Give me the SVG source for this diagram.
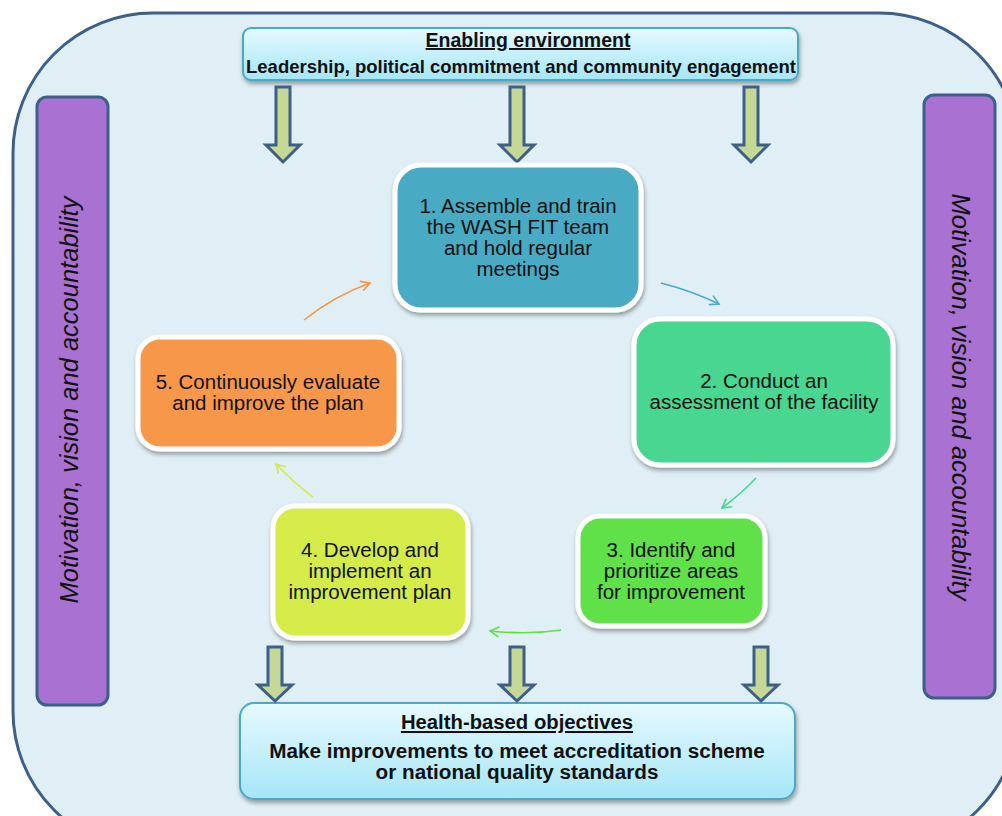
<svg xmlns="http://www.w3.org/2000/svg" width="1002" height="816" viewBox="0 0 1002 816">
<defs>
<linearGradient id="hdr" x1="0" y1="0" x2="0" y2="1">
<stop offset="0" stop-color="#e6f9ff"/>
<stop offset="1" stop-color="#a6e6f8"/>
</linearGradient>
<filter id="sh" x="-10%" y="-10%" width="125%" height="130%">
<feDropShadow dx="1" dy="3" stdDeviation="2" flood-color="#000" flood-opacity="0.35"/>
</filter>
<marker id="ah" viewBox="0 0 12 12" refX="10" refY="6" markerWidth="12" markerHeight="12" markerUnits="userSpaceOnUse" orient="auto">
<path d="M1,1 L10,6 L1,11" fill="none" stroke="context-stroke" stroke-width="1.6"/>
</marker>
<path id="barrow" d="M-7,0 H7 V58 H17 L0,75 L-17,58 H-7 Z"/>
<path id="barrowS" d="M-7,0 H7 V38 H17 L0,54 L-17,38 H-7 Z"/>
</defs>
<style>
.nd{stroke:#fff;stroke-width:5;filter:url(#sh)}
.t{font-family:"Liberation Sans",Arial,sans-serif;font-size:20.5px;fill:#111;text-anchor:middle}
.b{font-family:"Liberation Sans",Arial,sans-serif;font-weight:bold;fill:#111;text-anchor:middle}
.side{fill:#a971d2;stroke:#3d5f8a;stroke-width:3}
.vt{font-family:"Liberation Sans",Arial,sans-serif;font-style:italic;font-size:25.5px;fill:#111;text-anchor:middle}
.ba{fill:#c6d896;stroke:#3d5f8a;stroke-width:3;stroke-linejoin:miter}
.hb{fill:url(#hdr);stroke:#4aa9c6;stroke-width:2;filter:url(#sh)}
.c{fill:none;stroke-width:1.6;marker-end:url(#ah)}
</style>
<rect x="13" y="13" width="1006" height="838" rx="140" ry="140" fill="#e0eff5" stroke="#3d5f8a" stroke-width="3"/>

<g id="side-left">
<rect class="side" x="37" y="97" width="71" height="608" rx="10"/>
<text class="vt" transform="translate(78,400) rotate(-90)">Motivation, vision and accountability</text>
</g>
<g id="side-right">
<rect class="side" x="924" y="95" width="71" height="603" rx="10"/>
<text class="vt" transform="translate(952,397) rotate(90)">Motivation, vision and accountability</text>
</g>

<g id="enabling">
<rect class="hb" x="243" y="28" width="555" height="52" rx="8"/>
<text class="b" x="528" y="47" font-size="19.5" text-decoration="underline">Enabling environment  </text>
<text class="b" x="521" y="73" font-size="18.5">Leadership, political commitment and community engagement</text>
</g>

<g id="health">
<rect class="hb" x="240" y="703" width="555" height="96" rx="14"/>
<text class="b" x="517" y="729" font-size="20.3" text-decoration="underline">Health-based objectives</text>
<text class="b" x="517" y="758" font-size="20.7">Make improvements to meet accreditation scheme</text>
<text class="b" x="517" y="779" font-size="20.7">or national quality standards</text>
</g>

<g id="block-arrows">
<use href="#barrow" class="ba" x="283" y="87"/>
<use href="#barrow" class="ba" x="517" y="87"/>
<use href="#barrow" class="ba" x="751" y="87"/>
<use href="#barrowS" class="ba" x="275" y="647"/>
<use href="#barrowS" class="ba" x="517" y="647"/>
<use href="#barrowS" class="ba" x="761" y="647"/>
</g>

<g id="n1">
<rect class="nd" x="395" y="165" width="246" height="145" rx="26" fill="#4aaac4"/>
<text class="t" x="518" y="213">1. Assemble and train</text>
<text class="t" x="518" y="234">the WASH FIT team</text>
<text class="t" x="518" y="255">and hold regular</text>
<text class="t" x="518" y="276">meetings</text>
</g>
<g id="n2">
<rect class="nd" x="634" y="319" width="259" height="146" rx="26" fill="#4ad690"/>
<text class="t" x="764" y="388">2. Conduct an</text>
<text class="t" x="764" y="409">assessment of the facility</text>
</g>
<g id="n3">
<rect class="nd" x="578" y="516" width="187" height="110" rx="22" fill="#60e048"/>
<text class="t" x="671" y="557">3. Identify and</text>
<text class="t" x="671" y="578">prioritize areas</text>
<text class="t" x="671" y="599">for improvement</text>
</g>
<g id="n4">
<rect class="nd" x="273" y="506" width="195" height="132" rx="22" fill="#d4eb48"/>
<text class="t" x="370" y="557">4. Develop and</text>
<text class="t" x="370" y="578">implement an</text>
<text class="t" x="370" y="599">improvement plan</text>
</g>
<g id="n5">
<rect class="nd" x="138" y="337" width="261" height="112" rx="22" fill="#f79748"/>
<text class="t" x="268" y="389">5. Continuously evaluate</text>
<text class="t" x="268" y="410">and improve the plan</text>
</g>

<g id="connectors">
<path class="c" stroke="#4aaac8" d="M661,283 Q692,291 719,304"/>
<path class="c" stroke="#4ad690" d="M756,478 Q741,494 722,508"/>
<path class="c" stroke="#60e048" d="M561,630 Q528,635 490,631"/>
<path class="c" stroke="#d4eb48" d="M313,497 Q293,482 276,464"/>
<path class="c" stroke="#f79748" d="M304,320 Q334,296 370,283"/>
</g>
</svg>
